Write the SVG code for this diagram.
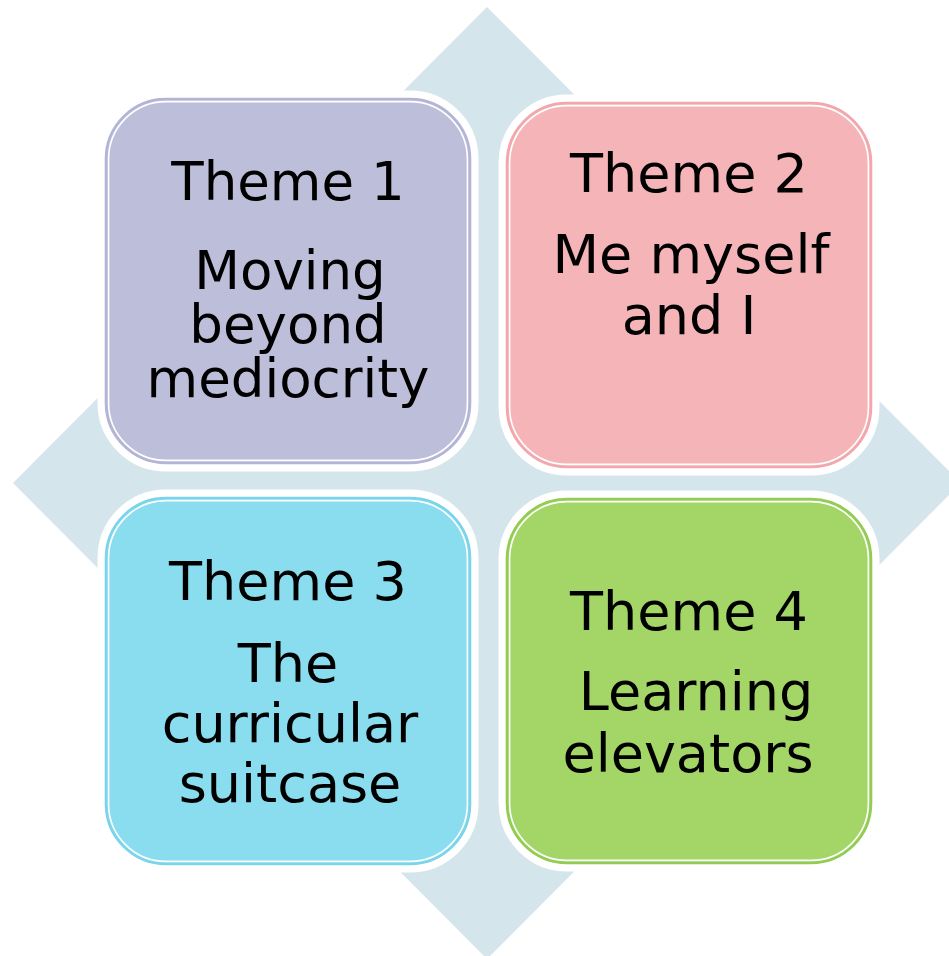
<svg xmlns="http://www.w3.org/2000/svg" width="949" height="956" viewBox="0 0 949 956">
  <style>
    .halo { fill: #ffffff; stroke: #ffffff; stroke-width: 17; }
    .inner { fill: none; stroke: #ffffff; stroke-width: 1.6; }
    .label { font-family: "DejaVu Sans", "Verdana", sans-serif; font-size: 54px; fill: #000000; text-anchor: middle; }
    #t1 .label { font-size: 53px; }
    #t1 .body { fill: #BDBFDA; stroke: #B3B4D6; stroke-width: 2.6; }
    #t2 .body { fill: #F5B5B8; stroke: #F1A7AC; stroke-width: 2.6; }
    #t3 .body { fill: #89DDEE; stroke: #7AD5EA; stroke-width: 2.6; }
    #t4 .body { fill: #A3D567; stroke: #92CC52; stroke-width: 2.6; }
  </style>

  <rect width="949" height="956" fill="#ffffff"/>

  <!-- background diamond -->
  <polygon id="diamond" points="13,483 487,7 961,483 487,959" fill="#D4E5EC"/>

  <!-- Theme 1 -->
  <g id="t1">
    <rect class="halo" x="106" y="99" width="364" height="364" rx="60"/>
    <rect class="body" x="106" y="99" width="364" height="364" rx="60"/>
    <rect class="inner" x="108.6" y="101.6" width="358.8" height="358.8" rx="57.4"/>
    <text class="label" x="288" y="200">Theme 1</text>
    <text class="label" x="290" y="289">Moving</text>
    <text class="label" x="288" y="343">beyond</text>
    <text class="label" x="288" y="397">mediocrity</text>
  </g>

  <!-- Theme 2 -->
  <g id="t2">
    <rect class="halo" x="507" y="103" width="364" height="364" rx="60"/>
    <rect class="body" x="507" y="103" width="364" height="364" rx="60"/>
    <rect class="inner" x="509.6" y="105.6" width="358.8" height="358.8" rx="57.4"/>
    <text class="label" x="689" y="192">Theme 2</text>
    <text class="label" x="691" y="273">Me myself</text>
    <text class="label" x="689" y="334">and I</text>
  </g>

  <!-- Theme 3 -->
  <g id="t3">
    <rect class="halo" x="106" y="498" width="364" height="366" rx="60"/>
    <rect class="body" x="106" y="498" width="364" height="366" rx="60"/>
    <rect class="inner" x="108.6" y="500.6" width="358.8" height="360.8" rx="57.4"/>
    <text class="label" x="288" y="600">Theme 3</text>
    <text class="label" x="288" y="682">The</text>
    <text class="label" x="290" y="742">curricular</text>
    <text class="label" x="290" y="802">suitcase</text>
  </g>

  <!-- Theme 4 -->
  <g id="t4">
    <rect class="halo" x="507" y="499" width="364" height="364" rx="60"/>
    <rect class="body" x="507" y="499" width="364" height="364" rx="60"/>
    <rect class="inner" x="509.6" y="501.6" width="358.8" height="358.8" rx="57.4"/>
    <text class="label" x="689" y="630">Theme 4</text>
    <text class="label" x="696" y="710">Learning</text>
    <text class="label" x="688" y="772">elevators</text>
  </g>

  <!-- no connectors in this matrix -->
  <g id="connectors"/>
</svg>
